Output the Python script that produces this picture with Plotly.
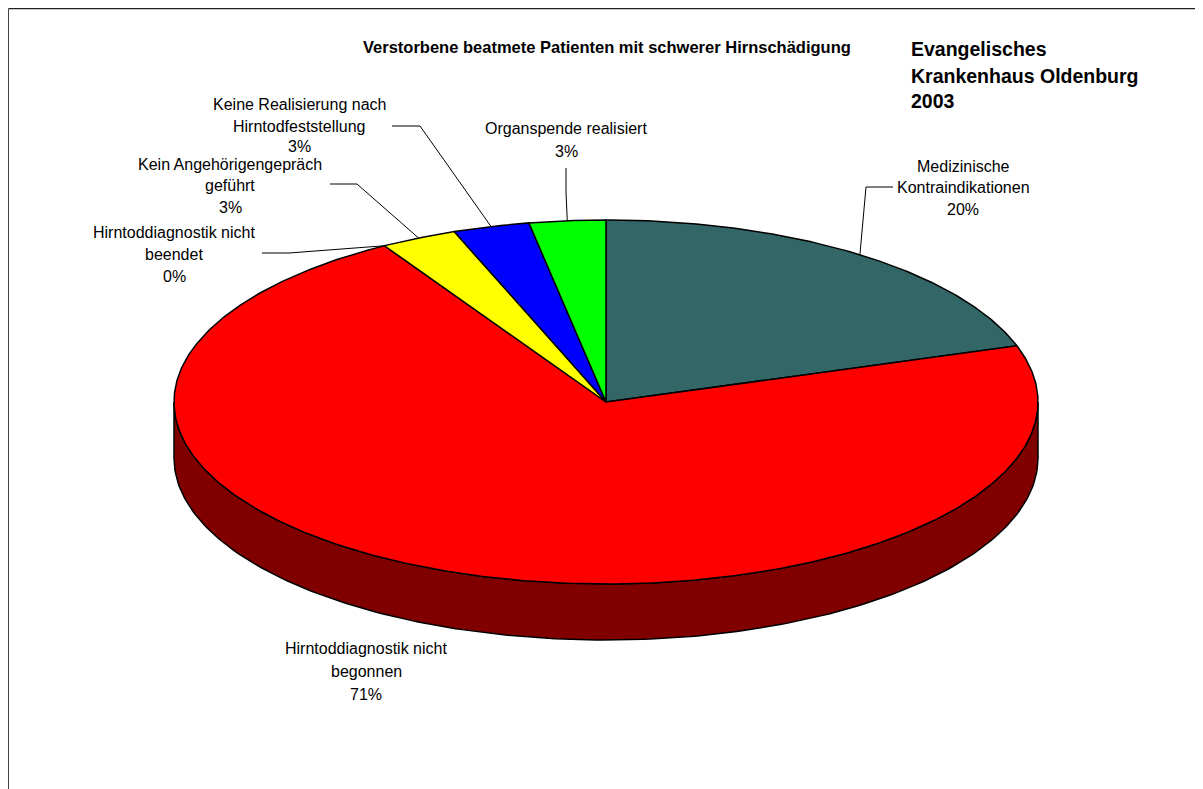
import numpy as np
import plotly.graph_objects as go

# ---------------- data ----------------
categories = [
    "Medizinische Kontraindikationen",
    "Hirntoddiagnostik nicht begonnen",
    "Hirntoddiagnostik nicht beendet",
    "Kein Angehörigengepräch geführt",
    "Keine Realisierung nach Hirntodfeststellung",
    "Organspende realisiert",
]
label_lines = [
    ["Medizinische", "Kontraindikationen"],
    ["Hirntoddiagnostik nicht", "begonnen"],
    ["Hirntoddiagnostik nicht", "beendet"],
    ["Kein Angehörigengepräch", "geführt"],
    ["Keine Realisierung nach", "Hirntodfeststellung"],
    ["Organspende realisiert"],
]
counts = [7, 25, 0, 1, 1, 1]
top_colors = ["#336666", "#FF0000", "#FFFF00", "#FFFF00", "#0000FF", "#00FF00"]
side_colors = ["#1A3333", "#800000", "#808000", "#808000", "#000080", "#008000"]

title_text = "Verstorbene beatmete Patienten mit schwerer Hirnschädigung"
corner_lines = ["Evangelisches", "Krankenhaus Oldenburg", "2003"]

# ---------------- layout constants (pixels) ----------------
W, H = 1203, 789
OFF = 8  # page body margin offset
CX, CY, RX, RY, DEPTH = 606, 402, 432, 182, 56
FONT = "Arial, Liberation Sans, sans-serif"

# label placement: center x, line y positions, leader elbow points
label_layout = [
    dict(x=963, ys=[166, 187, 209], leader=[(893, 187), (866, 187)]),
    dict(x=366, ys=[648, 671, 694], leader=None),
    dict(x=174, ys=[232, 254, 276], leader=[(262, 253), (289, 253)]),
    dict(x=230, ys=[164, 185, 207], leader=[(330, 184), (357, 184)]),
    dict(x=299, ys=[104, 126, 146], leader=[(392, 126), (420, 126)]),
    dict(x=566, ys=[128, 151], leader=[(566, 168), (566, 192)]),
]

total = float(sum(counts))
fracs = [c / total for c in counts]
starts = np.cumsum([0] + fracs[:-1]) * 360.0
ends = starts + np.array(fracs) * 360.0


def ell(theta_deg, dy=0.0):
    t = np.radians(theta_deg)
    return CX + RX * np.sin(t), CY - RY * np.cos(t) + dy


fig = go.Figure()

# side walls (visible front half: 90..270 degrees)
for i in range(len(counts)):
    a0, a1 = max(starts[i], 90.0), min(ends[i], 270.0)
    if a1 - a0 <= 0:
        continue
    th = np.linspace(a0, a1, 200)
    xt, yt = ell(th)
    xb, yb = ell(th[::-1], DEPTH)
    xs = np.concatenate([xt, xb, xt[:1]])
    ys = np.concatenate([yt, yb, yt[:1]])
    fig.add_trace(go.Scatter(x=xs, y=ys, mode="lines", fill="toself",
                             fillcolor=side_colors[i],
                             line=dict(color="black", width=1.5),
                             hoverinfo="skip", showlegend=False))

# top faces
for i in range(len(counts)):
    if ends[i] - starts[i] <= 0:
        continue
    th = np.linspace(starts[i], ends[i], max(int((ends[i] - starts[i]) * 2), 10))
    xa, ya = ell(th)
    xs = np.concatenate([[CX], xa, [CX]])
    ys = np.concatenate([[CY], ya, [CY]])
    fig.add_trace(go.Scatter(x=xs, y=ys, mode="lines", fill="toself",
                             fillcolor=top_colors[i],
                             line=dict(color="black", width=1.5),
                             hoverinfo="skip", showlegend=False))

# labels with leader lines
annotations = []
for i in range(len(counts)):
    L = label_layout[i]
    pct = f"{round(fracs[i] * 100):.0f}%"
    lines = label_lines[i] + [pct]
    for txt, y in zip(lines, L["ys"]):
        annotations.append(dict(x=L["x"], y=y, xref="x", yref="y", text=txt,
                                showarrow=False, xanchor="center", yanchor="middle",
                                font=dict(family=FONT, size=16, color="black")))
    if L["leader"]:
        mid = (starts[i] + ends[i]) / 2.0
        mx, my = ell(mid)
        pts = L["leader"] + [(mx, my)]
        fig.add_trace(go.Scatter(x=[p[0] for p in pts], y=[p[1] for p in pts],
                                 mode="lines", line=dict(color="black", width=1),
                                 hoverinfo="skip", showlegend=False))

# title
annotations.append(dict(x=607, y=47, xref="x", yref="y", text="<b>" + title_text + "</b>",
                        showarrow=False, xanchor="center", yanchor="middle",
                        font=dict(family=FONT, size=16.5, color="black")))
for txt, y in zip(corner_lines, [49, 76, 101]):
    annotations.append(dict(x=909, y=y, xref="x", yref="y", text="<b>" + txt + "</b>",
                            showarrow=False, xanchor="left", yanchor="middle",
                            font=dict(family=FONT, size=19.5, color="black")))

fig.update_layout(
    width=W, height=H, autosize=False,
    margin=dict(l=0, r=0, t=0, b=0),
    paper_bgcolor="white", plot_bgcolor="white",
    xaxis=dict(range=[OFF, W + OFF], visible=False, fixedrange=True),
    yaxis=dict(range=[H + OFF, OFF], visible=False, fixedrange=True),
    annotations=annotations,
    shapes=[
        dict(type="line", xref="x", yref="y", x0=OFF + 0.5, y0=8.5, x1=W + OFF, y1=8.5,
             line=dict(color="#222222", width=1.5)),
        dict(type="line", xref="x", yref="y", x0=OFF + 0.5, y0=8.5, x1=OFF + 0.5, y1=H + OFF,
             line=dict(color="#444444", width=1)),
    ],
)

fig.write_html("out.html")
